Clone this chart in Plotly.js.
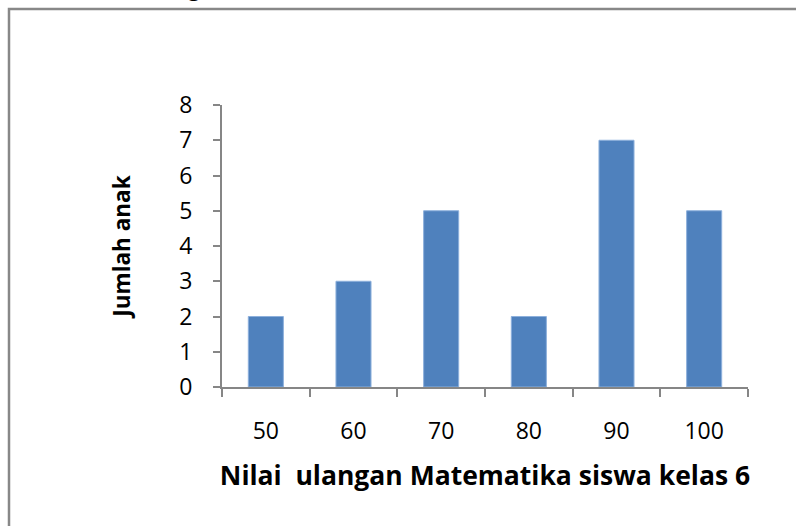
<!DOCTYPE html>
<html>
<head>
<meta charset="utf-8">
<script src="https://cdn.plot.ly/plotly-3.0.1.min.js"></script>
<style>html,body{margin:0;padding:0;background:#fff;}#chart{width:796px;height:526px;}</style>
</head>
<body>
<div id="chart"></div>
<script>
var categories = ['50', '60', '70', '80', '90', '100'];
var jumlahAnak = [2, 3, 5, 2, 7, 5];
var yTicks = [0, 1, 2, 3, 4, 5, 6, 7, 8];
var xTitle = 'Nilai\u00a0 ulangan Matematika siswa kelas 6';
var yTitle = 'Jumlah anak';

var W = 796, H = 526;
var L = 222, R = 48, T = 105, B = 139;
var pw = W - L - R, ph = H - T - B;
function px2x(p) { return (p - L) / pw; }
function px2y(p) { return (H - B - p) / ph; }

var axisGray = '#868686';
var fontFam = '"Open Sans", Lato, sans-serif';

var trace = {
  type: 'bar',
  x: categories,
  y: jumlahAnak,
  marker: { color: '#4F81BD', line: { color: '#8DB0DC', width: 1 } },
  hoverinfo: 'x+y'
};

var layout = {
  width: W, height: H,
  margin: { l: L, r: R, t: T, b: B, pad: 0 },
  paper_bgcolor: '#fff', plot_bgcolor: '#fff',
  showlegend: false,
  bargap: 0.6,
  font: { family: fontFam, color: '#000', size: 20 },
  xaxis: {
    type: 'category',
    categoryorder: 'array', categoryarray: categories,
    tickson: 'boundaries',
    ticks: 'outside', ticklen: 8, tickwidth: 2, tickcolor: axisGray,
    showline: true, linecolor: axisGray, linewidth: 2,
    showgrid: false, zeroline: false,
    ticklabelstandoff: 22,
    tickfont: { family: fontFam, size: 23, color: '#000' },
    title: { text: xTitle, font: { family: fontFam, size: 26.5, color: '#000', weight: 'bold' }, standoff: 22 },
    fixedrange: true
  },
  yaxis: {
    range: [0, 8],
    tickmode: 'array', tickvals: yTicks, ticktext: yTicks.map(String),
    ticks: 'outside', ticklen: 7, tickwidth: 2, tickcolor: axisGray,
    showline: true, linecolor: axisGray, linewidth: 2,
    showgrid: false, zeroline: false,
    ticklabelstandoff: 16,
    tickfont: { family: fontFam, size: 23, color: '#000' },
    title: { text: yTitle, font: { family: fontFam, size: 22.5, color: '#000', weight: 'bold' }, standoff: 42 },
    fixedrange: true
  },
  shapes: [{
    type: 'rect', xref: 'paper', yref: 'paper',
    x0: px2x(9), x1: px2x(900), y0: px2y(600), y1: px2y(9),
    line: { color: '#888888', width: 2.5 }, fillcolor: 'rgba(0,0,0,0)', layer: 'below'
  }],
  annotations: [{
    text: 'g', xref: 'paper', yref: 'paper',
    x: px2x(194), y: px2y(3), xanchor: 'center', yanchor: 'bottom',
    showarrow: false, borderpad: 0,
    font: { family: fontFam, size: 22, color: '#000' }
  }]
};

Plotly.newPlot('chart', [trace], layout, { displayModeBar: false, staticPlot: true });
</script>
</body>
</html>
